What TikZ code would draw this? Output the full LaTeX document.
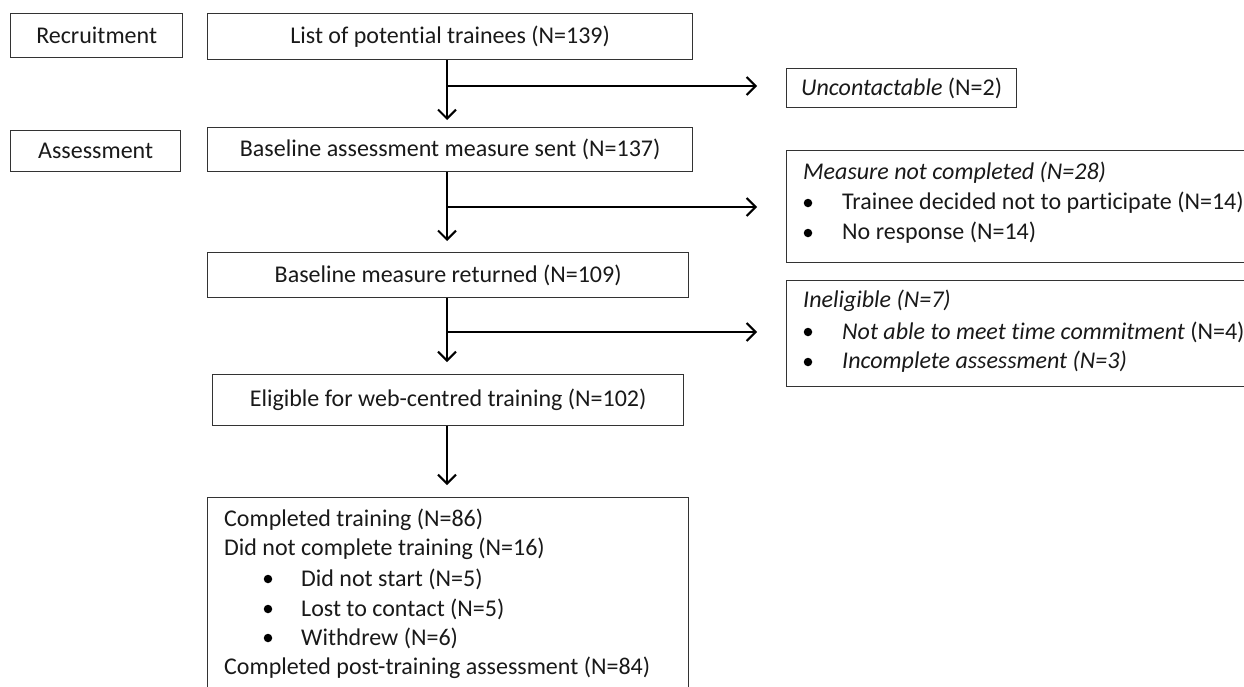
\documentclass[tikz,border=0pt]{standalone}
\usepackage{fontspec}
\setmainfont{Carlito}[Ligatures={NoCommon}]
\usetikzlibrary{arrows.meta}
\begin{document}
\begin{tikzpicture}[x=1pt,y=-1pt,
  box/.style={draw=black!80,line width=1.3pt,anchor=north west,inner sep=0pt,font=\fontsize{24}{28}\selectfont,text=black!90},
  txt/.style={anchor=west,inner sep=0pt,font=\fontsize{24}{28}\selectfont,text=black!90},
  flow/.style={line width=2pt,-{Straight Barb[length=9pt,width=18pt,line width=2pt]}},
  dot/.style={fill=black,circle,inner sep=0pt,minimum size=8.5pt}]
\clip (0,0) rectangle (1244,686);
\useasboundingbox (0,0) rectangle (1244,686);
% left stage labels
\node[box,minimum width=172pt,minimum height=44pt] (recr) at (10,13) {Recruitment};
\node[box,minimum width=170pt,minimum height=41pt] (asse) at (10,130) {Assessment};
% main column
\node[box,minimum width=485pt,minimum height=46pt] (list) at (207,13) {List of potential trainees (N=139)};
\node[box,minimum width=485pt,minimum height=44pt] (sent) at (207,127) {Baseline assessment measure sent (N=137)};
\node[box,minimum width=481pt,minimum height=45pt] (ret) at (207,252) {Baseline measure returned (N=109)};
\node[box,minimum width=471pt,minimum height=51pt] (elig) at (212,374) {Eligible for web-centred training (N=102)};
\node[box,minimum width=481pt,minimum height=220pt] (final) at (207,497) {};
% side boxes
\node[box,minimum width=230pt,minimum height=39pt] (unc) at (786,68) {\textit{Uncontactable} (N=2)};
\node[box,minimum width=480pt,minimum height=112pt] (mnc) at (786,150) {};
\node[box,minimum width=480pt,minimum height=106pt] (inel) at (786,280) {};
% texts in side boxes
\node[txt] (m1) at (803,173) {\textit{Measure not completed (N=28)}};
\node[dot] (mb1) at (808,203) {};
\node[txt] (m2) at (842,203) {Trainee decided not to participate (N=14)};
\node[dot] (mb2) at (808,233) {};
\node[txt] (m3) at (842,233) {No response (N=14)};
\node[txt] (i1) at (803,301) {\textit{Ineligible (N=7)}};
\node[dot] (ib1) at (808,332) {};
\node[txt] (i2) at (842,332) {\textit{Not able to meet time commitment} (N=4)};
\node[dot] (ib2) at (808,362) {};
\node[txt] (i3) at (842,362) {\textit{Incomplete assessment (N=3)}};
% texts in final box
\node[txt] (f1) at (224,520) {Completed training (N=86)};
\node[txt] (f2) at (224,549) {Did not complete training (N=16)};
\node[dot] (fb1) at (268,579) {};
\node[txt] (f3) at (301,579) {Did not start (N=5)};
\node[dot] (fb2) at (268,609) {};
\node[txt] (f4) at (301,609) {Lost to contact (N=5)};
\node[dot] (fb3) at (268,638) {};
\node[txt] (f5) at (301,638) {Withdrew (N=6)};
\node[txt] (f6) at (224,668) {Completed post-training assessment (N=84)};
% connectors
\coordinate (j1) at (447,86);
\coordinate (j2) at (447,207);
\coordinate (j3) at (447,332);
\coordinate (t1) at (757,86);
\coordinate (t2) at (757,207);
\coordinate (t3) at (757,332);
\draw[flow] (list.south -| j1) -- ([yshift=7pt]sent.north -| j1);
\draw[flow] (j1) -- (t1);
\draw[flow] (sent.south -| j2) -- ([yshift=11pt]ret.north -| j2);
\draw[flow] (j2) -- (t2);
\draw[flow] (ret.south -| j3) -- ([yshift=12pt]elig.north -| j3);
\draw[flow] (j3) -- (t3);
\draw[flow] (elig.south -| j3) -- ([yshift=12pt]final.north -| j3);
\end{tikzpicture}
\end{document}
